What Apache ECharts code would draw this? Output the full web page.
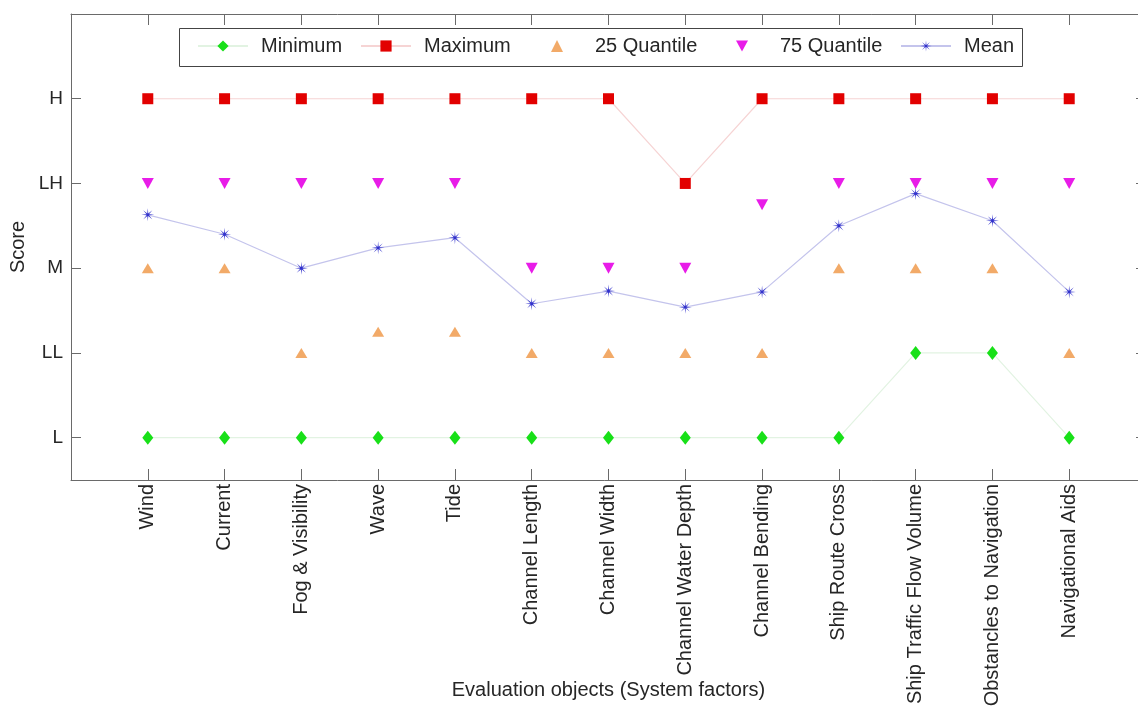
<!DOCTYPE html>
<html>
<head>
<meta charset="utf-8">
<script src="https://cdn.jsdelivr.net/npm/echarts@6/dist/echarts.min.js"></script>
<style>
html,body{margin:0;padding:0;background:#fff;}
#chart{width:1138px;height:709px;}
</style>
</head>
<body>
<div id="chart"></div>
<script>
const categories = ['Wind','Current','Fog & Visibility','Wave','Tide','Channel Length','Channel Width','Channel Water Depth','Channel Bending','Ship Route Cross','Ship Traffic Flow Volume','Obstancles to Navigation','Navigational Aids'];
const scoreLabels = ['L','LL','M','LH','H'];
const scoreValues = [1,2,3,4,5];
const minimum = [1,1,1,1,1,1,1,1,1,1,2,2,1];
const maximum = [5,5,5,5,5,5,5,4,5,5,5,5,5];
const quantile25 = [3,3,2,2.25,2.25,2,2,2,2,3,3,3,2];
const quantile75 = [4,4,4,4,4,3,3,3,3.75,4,4,4,4];
const mean = [3.63,3.40,3.0,3.24,3.36,2.58,2.73,2.54,2.72,3.50,3.88,3.56,2.72];

const FONT = "'Liberation Sans', Arial, sans-serif";
const AX = '#6a6a6a';
const TXT = '#262626';
const STAR = 'path://M10 0L1.848 0.765L7.071 7.071L0.765 1.848L0 10L-0.765 1.848L-7.071 7.071L-1.848 0.765L-10 0L-1.848 -0.765L-7.071 -7.071L-0.765 -1.848L0 -10L0.765 -1.848L7.071 -7.071L1.848 -0.765Z';
const DOWN = 'path://M0 0L10 0L5 9Z';

const pts = arr => arr.map((v, i) => [i + 1, v]);

const chart = echarts.init(document.getElementById('chart'), null, {renderer: 'canvas'});

function legendAt(name, left, isLine) {
  return {
    data: [name],
    left: left,
    top: 36,
    padding: 0,
    itemWidth: isLine ? 50 : 12,
    itemHeight: isLine ? 14 : 12,
    selectedMode: false,
    textStyle: {fontFamily: FONT, fontSize: 20, color: TXT, padding: [0, 0, 0, isLine ? 8 : 27]}
  };
}

const option = {
  animation: false,
  backgroundColor: '#fff',
  textStyle: {fontFamily: FONT},
  graphic: [{
    type: 'rect', z: 3,
    shape: {x: 179.5, y: 28.5, width: 843, height: 38},
    style: {fill: '#fff', stroke: '#444', lineWidth: 1}
  }],
  legend: [
    legendAt('Minimum', 197, true),
    legendAt('Maximum', 360, true),
    legendAt('25 Quantile', 551, false),
    legendAt('75 Quantile', 736, false),
    legendAt('Mean', 900, true)
  ],
  grid: {left: 71, right: -8, top: 14, bottom: 229, containLabel: false, outerBoundsMode: 'none'},
  xAxis: [{
    type: 'value', min: 0, max: 14, interval: 1, position: 'bottom',
    name: 'Evaluation objects (System factors)', nameLocation: 'middle', nameGap: 200,
    nameMoveOverlap: false,
    nameTextStyle: {fontFamily: FONT, fontSize: 20, color: TXT},
    axisLine: {show: true, onZero: false, lineStyle: {color: AX, width: 1}},
    axisTick: {show: true, inside: true, length: 11, lineStyle: {color: AX}},
    axisLabel: {show: true, rotate: 90, margin: 4, fontFamily: FONT, fontSize: 20, color: TXT,
      formatter: v => (v >= 1 && v <= categories.length) ? categories[v - 1] : ''},
    splitLine: {show: false}
  }, {
    type: 'value', min: 0, max: 14, interval: 1, position: 'top',
    axisLine: {show: true, onZero: false, lineStyle: {color: AX, width: 1}},
    axisTick: {show: true, inside: true, length: 11, lineStyle: {color: AX}},
    axisLabel: {show: false},
    splitLine: {show: false}
  }],
  yAxis: [{
    type: 'value', min: 0.5, max: 6, position: 'left',
    name: 'Score', nameLocation: 'middle', nameGap: 43, nameRotate: 90,
    nameMoveOverlap: false,
    nameTextStyle: {fontFamily: FONT, fontSize: 20, color: TXT},
    axisLine: {show: true, onZero: false, lineStyle: {color: AX, width: 1}},
    axisTick: {show: true, inside: true, length: 10, customValues: scoreValues, lineStyle: {color: AX}},
    axisLabel: {show: true, margin: 8, fontFamily: FONT, fontSize: 19, color: TXT, customValues: scoreValues,
      formatter: v => scoreLabels[scoreValues.indexOf(v)] || ''},
    splitLine: {show: false}
  }, {
    type: 'value', min: 0.5, max: 6, position: 'right',
    axisLine: {show: true, onZero: false, lineStyle: {color: AX, width: 1}},
    axisTick: {show: true, inside: true, length: 10, customValues: scoreValues, lineStyle: {color: AX}},
    axisLabel: {show: false},
    splitLine: {show: false}
  }],
  series: [{
    name: 'Minimum', type: 'line', data: pts(minimum),
    symbol: 'diamond', symbolSize: [11, 14],
    itemStyle: {color: '#18e018'},
    lineStyle: {color: '#e2f3e2', width: 1.2},
    z: 2
  }, {
    name: 'Maximum', type: 'line', data: pts(maximum),
    symbol: 'rect', symbolSize: 11,
    itemStyle: {color: '#e20000'},
    lineStyle: {color: '#f6d4d4', width: 1.2},
    z: 2
  }, {
    name: '25 Quantile', type: 'scatter', data: pts(quantile25),
    symbol: 'triangle', symbolSize: [12, 10],
    itemStyle: {color: '#f2aa68', opacity: 1},
    z: 3
  }, {
    name: '75 Quantile', type: 'scatter', data: pts(quantile75),
    symbol: DOWN, symbolSize: [12, 11],
    itemStyle: {color: '#e81ce8', opacity: 1},
    z: 3
  }, {
    name: 'Mean', type: 'line', data: pts(mean),
    symbol: STAR, symbolSize: 13,
    itemStyle: {color: '#3232cc'},
    lineStyle: {color: '#c4c4ec', width: 1.2},
    z: 4
  }]
};
chart.setOption(option);
</script>
</body>
</html>
